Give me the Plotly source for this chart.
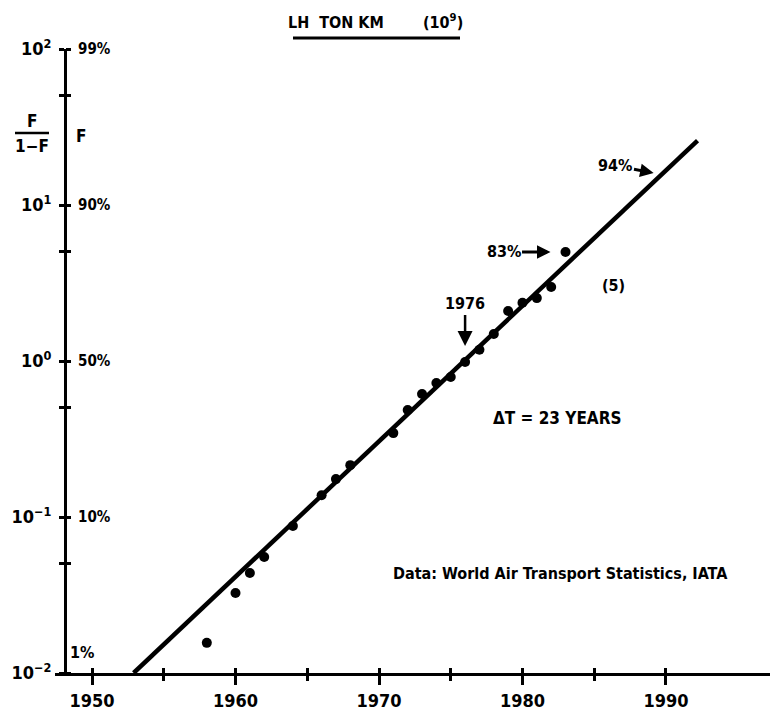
import numpy as np
import plotly.graph_objects as go

# Observed LH ton-km share, plotted as F/(1-F)
years = [1958, 1960, 1961, 1962, 1964, 1966, 1967, 1968, 1971, 1972, 1973,
         1974, 1975, 1976, 1977, 1978, 1979, 1980, 1981, 1982, 1983]
ratio = [0.0156, 0.0326, 0.0438, 0.0554, 0.0876, 0.138, 0.175, 0.215, 0.345,
         0.485, 0.614, 0.723, 0.789, 0.986, 1.18, 1.49, 2.09, 2.36, 2.53, 2.98, 5.0]

# Fitted logistic (straight line on the Fisher-Pry scale), end points
fit_years = [1952.9, 1992.2]
fit_ratio = [0.01, 25.9]

# Axis ticks and labels
x_major = [1950, 1960, 1970, 1980, 1990]
x_major_text = ["1950", "1960", "1970", "1980", "1990"]
x_all = [1950, 1955, 1960, 1965, 1970, 1975, 1980, 1985, 1990]
y_major = [0.01, 0.1, 1, 10, 100]
y_major_text = ["10<sup>\u22122</sup>", "10<sup>\u22121</sup>", "10<sup>0</sup>",
                "10<sup>1</sup>", "10<sup>2</sup>"]
y_half = [0.05, 0.5, 5, 50]
pct_vals = [0.1, 1, 10, 100]
pct_text = ["10%", "50%", "90%", "99%"]
pct_bottom = "1%"

# Annotated points
mid_year = 1976
mid_label = "1976"
last_share_label = "83%"
upper_share_label = "94%"
upper_share = 0.94

FONT = "Liberation Sans Narrow, DejaVu Sans Condensed, Arial Narrow, sans-serif"
INK = "#000000"

# plot area in pixels: x 55..770, y 49..673
L, R, T, B = 55, 770, 49, 673
W, H = R - L, B - T


def px(xp):
    return (xp - L) / W


def py(yp):
    return (B - yp) / H


x_range = [1947.42, 1997.25]
y_range = [-2, 2]
y_axis_pos = (65 - L) / W


def fit_year_at(r):
    ly0, ly1 = np.log10(fit_ratio)
    return fit_years[0] + (np.log10(r) - ly0) / (ly1 - ly0) * (fit_years[1] - fit_years[0])


fig = go.Figure()
fig.add_trace(go.Scatter(x=fit_years, y=fit_ratio, mode="lines",
                         line=dict(color=INK, width=4.5), hoverinfo="skip"))
fig.add_trace(go.Scatter(x=years, y=ratio, mode="markers",
                         marker=dict(color=INK, size=10)))
# carrier for the inner tick marks
fig.add_trace(go.Scatter(x=[x_range[0]], y=[1], xaxis="x2", yaxis="y2",
                         mode="markers", marker=dict(size=0.1, opacity=0),
                         showlegend=False, hoverinfo="skip"))

tickfont = dict(family=FONT, size=18, color=INK, weight="bold")

fig.update_layout(
    width=772, height=713,
    margin=dict(l=L, r=772 - R, t=T, b=713 - B),
    paper_bgcolor="white", plot_bgcolor="white",
    showlegend=False,
    font=dict(family=FONT, color=INK),
    xaxis=dict(range=x_range, showgrid=False, zeroline=False,
               showline=True, linecolor=INK, linewidth=3,
               tickvals=x_major, ticktext=x_major_text,
               ticks="outside", ticklen=9, tickwidth=3, tickcolor=INK,
               minor=dict(tickvals=x_all, ticks="outside", ticklen=5,
                          tickwidth=3, tickcolor=INK, showgrid=False),
               tickfont=tickfont, ticklabelstandoff=0),
    xaxis2=dict(range=x_range, overlaying="x", anchor="y2", side="bottom",
                showgrid=False, zeroline=False, showline=False,
                tickvals=x_all, ticks="inside", ticklen=5, tickwidth=3,
                tickcolor=INK, showticklabels=False),
    yaxis=dict(type="log", range=y_range, showgrid=False, zeroline=False,
               anchor="free", position=y_axis_pos, side="left",
               showline=True, linecolor=INK, linewidth=3,
               tickvals=y_major, ticktext=y_major_text,
               ticks="outside", ticklen=5, tickwidth=3, tickcolor=INK,
               minor=dict(tickvals=y_half, ticks="outside", ticklen=5,
                          tickwidth=3, tickcolor=INK, showgrid=False),
               tickfont=tickfont, ticklabelstandoff=4),
    yaxis2=dict(type="log", range=y_range, overlaying="y",
                anchor="free", position=y_axis_pos, side="right",
                showgrid=False, zeroline=False, showline=False,
                tickvals=pct_vals, ticktext=pct_text,
                ticks="outside", ticklen=5, tickwidth=3, tickcolor=INK,
                minor=dict(tickvals=[y_major[0]] + y_half, ticks="outside",
                           ticklen=5, tickwidth=3, tickcolor=INK, showgrid=False),
                tickfont=dict(family=FONT, size=15, color=INK, weight="bold"),
                ticklabelstandoff=4),
)

big = dict(family=FONT, size=17, color=INK, weight="bold")
mid = dict(family=FONT, size=16, color=INK, weight="bold")


def label(xp, yp, text, font, **kw):
    opts = dict(xanchor="center", yanchor="middle")
    opts.update(kw)
    fig.add_annotation(x=px(xp), y=py(yp), xref="paper", yref="paper", text=text,
                       showarrow=False, font=font, **opts)


# fraction label F / (1-F) and the F scale label
label(32, 121, "F", big)
label(32, 146, "1\u2212F", big)
fig.add_shape(type="line", xref="paper", yref="paper", x0=px(15), x1=px(49),
              y0=py(133), y1=py(133), line=dict(color=INK, width=2.5))
label(81, 136, "F", big)
label(68, 664, pct_bottom, mid, xanchor="left", yanchor="bottom")

# heading
label(336, 23, "LH  TON KM", mid)
label(443, 22, "(10<sup>9</sup>)", mid)
fig.add_shape(type="line", xref="paper", yref="paper", x0=px(293), x1=px(460),
              y0=py(38), y1=py(38), line=dict(color=INK, width=3))

# mid-point marker
mid_ratio = ratio[years.index(mid_year)]
fig.add_annotation(x=mid_year, y=np.log10(mid_ratio), text=mid_label,
                   showarrow=True, ax=0, ay=-58, standoff=16,
                   arrowhead=2, arrowsize=1.2, arrowwidth=2.5, arrowcolor=INK,
                   font=mid)

# share arrows
fig.add_annotation(x=years[-1], y=np.log10(ratio[-1]), text=last_share_label,
                   showarrow=True, ax=-62, ay=0, standoff=15,
                   arrowhead=2, arrowsize=0.9, arrowwidth=3, arrowcolor=INK,
                   font=mid)
upper_ratio = upper_share / (1 - upper_share)
fig.add_annotation(x=fit_year_at(upper_ratio), y=np.log10(upper_ratio),
                   text=upper_share_label,
                   showarrow=True, ax=-46, ay=-9, standoff=8,
                   arrowhead=2, arrowsize=0.9, arrowwidth=3, arrowcolor=INK,
                   font=mid)

label(613, 285, "(5)", mid)
label(557, 418, "\u0394T = 23 YEARS", big)
label(560, 573, "Data: World Air Transport Statistics, IATA", mid)

fig.write_html("out.html")
